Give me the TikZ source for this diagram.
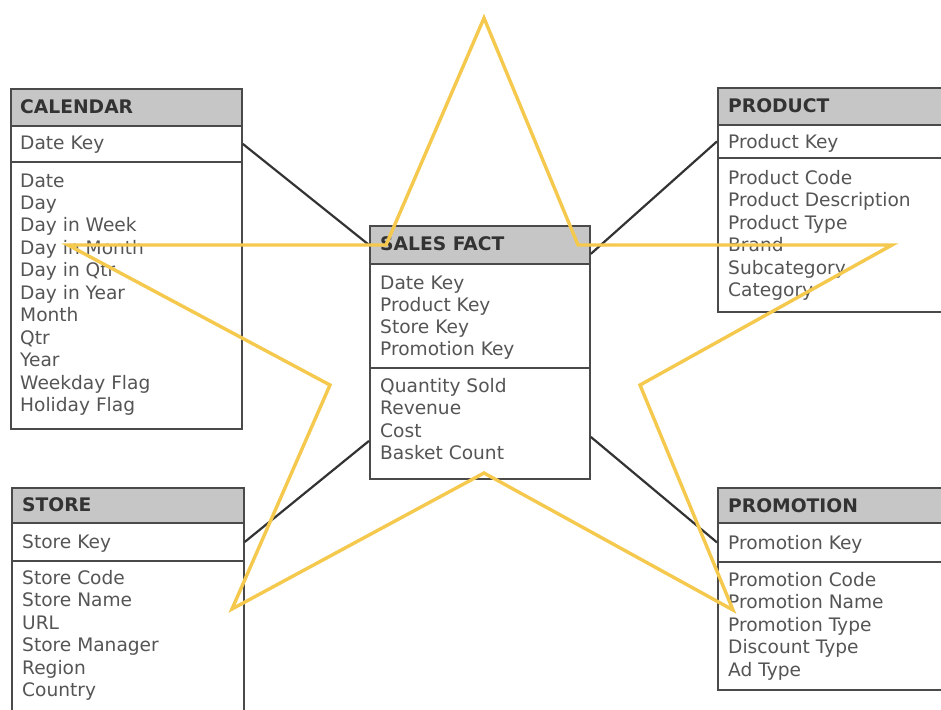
\documentclass[tikz,border=0pt]{standalone}
\usepackage{fontspec}
\setmainfont{DejaVu Sans}
\definecolor{boxline}{HTML}{4A4A4A}
\definecolor{hdrfill}{HTML}{C6C6C6}
\definecolor{ttltext}{HTML}{333333}
\definecolor{fldtext}{HTML}{555555}
\definecolor{linkcol}{HTML}{333333}
\definecolor{starcol}{HTML}{F4C94E}
\begin{document}
\begin{tikzpicture}[x=1pt,y=-1pt,
  hdr/.style={draw=boxline, fill=hdrfill, line width=1.8pt, anchor=north west, inner sep=0pt},
  sec/.style={draw=boxline, fill=white, line width=1.8pt, anchor=north west, inner sep=0pt},
  ttl/.style={anchor=base west, inner sep=0pt, font=\fontsize{18.7}{22}\selectfont\bfseries, text=ttltext},
  fld/.style={anchor=base west, inner sep=0pt, font=\fontsize{18.6}{22}\selectfont, text=fldtext},
  link/.style={draw=linkcol, line width=2.2pt},
  starline/.style={draw=starcol, line width=3.4pt, line join=miter, miter limit=20}]

\useasboundingbox (0,0) rectangle (941,709);
\clip (0,0) rectangle (941,709);

% ---- CALENDAR dimension
\node[sec, minimum width=231, minimum height=267] (calbody) at (10,161) {};
\node[sec, minimum width=231, minimum height=36] (calkey) at (10,125) {};
\node[hdr, minimum width=231, minimum height=37] (calhead) at (10,88) {};
\node[ttl] (calttl) at (20,113.5) {CALENDAR};
\node[fld] (calk) at (20,149.5) {Date Key};
\foreach \t [count=\i from 0] in {Date,Day,Day in Week,Day in Month,Day in Qtr,Day in Year,Month,Qtr,Year,Weekday Flag,Holiday Flag}
  \node[fld] (cal\i) at (20,{187+22.45*\i}) {\t};

% ---- SALES FACT
\node[sec, minimum width=220, minimum height=111] (factmeas) at (369,367) {};
\node[sec, minimum width=220, minimum height=104] (factkeys) at (369,263) {};
\node[hdr, minimum width=220, minimum height=38] (facthead) at (369,225) {};
\node[ttl] (factttl) at (380,250.5) {SALES FACT};
\foreach \t [count=\i from 0] in {Date Key,Product Key,Store Key,Promotion Key}
  \node[fld] (fk\i) at (380,{289.5+22*\i}) {\t};
\foreach \t [count=\i from 0] in {Quantity Sold,Revenue,Cost,Basket Count}
  \node[fld] (fm\i) at (380,{392.5+22.4*\i}) {\t};

% ---- PRODUCT dimension
\node[sec, minimum width=233, minimum height=154] (prodbody) at (717,157) {};
\node[sec, minimum width=233, minimum height=33] (prodkey) at (717,124) {};
\node[hdr, minimum width=233, minimum height=37] (prodhead) at (717,87) {};
\node[ttl] (prodttl) at (728,112.5) {PRODUCT};
\node[fld] (prodk) at (728,148.5) {Product Key};
\foreach \t [count=\i from 0] in {Product Code,Product Description,Product Type,Brand,Subcategory,Category}
  \node[fld] (prod\i) at (728,{184.5+22.4*\i}) {\t};

% ---- STORE dimension
\node[sec, minimum width=232, minimum height=170] (storebody) at (11,560) {};
\node[sec, minimum width=232, minimum height=38] (storekey) at (11,522) {};
\node[hdr, minimum width=232, minimum height=35] (storehead) at (11,487) {};
\node[ttl] (storettl) at (22,511.5) {STORE};
\node[fld] (storek) at (22,548.5) {Store Key};
\foreach \t [count=\i from 0] in {Store Code,Store Name,URL,Store Manager,Region,Country}
  \node[fld] (store\i) at (22,{584.5+22.4*\i}) {\t};

% ---- PROMOTION dimension
\node[sec, minimum width=233, minimum height=128] (promobody) at (717,561) {};
\node[sec, minimum width=233, minimum height=39] (promokey) at (717,522) {};
\node[hdr, minimum width=233, minimum height=35] (promohead) at (717,487) {};
\node[ttl] (promottl) at (728,512.5) {PROMOTION};
\node[fld] (promok) at (728,549.5) {Promotion Key};
\foreach \t [count=\i from 0] in {Promotion Code,Promotion Name,Promotion Type,Discount Type,Ad Type}
  \node[fld] (promo\i) at (728,{586.5+22.4*\i}) {\t};

% ---- relationships
\draw[link] (calkey.east) -- (facthead.west);
\draw[link] (prodkey.west) -- ([yshift=-9pt]facthead.east);
\draw[link] (storekey.east) -- ([yshift=-17.5pt]factmeas.west);
\draw[link] (promokey.west) -- ([yshift=-13.5pt]factmeas.east);

% ---- star outline on top
\draw[starline] (484,18) -- (578,245) -- (892,245) -- (640,385) -- (733,610)
  -- (484,473) -- (232,609) -- (330,385) -- (68,245) -- (386,245) -- cycle;
\end{tikzpicture}
\end{document}
